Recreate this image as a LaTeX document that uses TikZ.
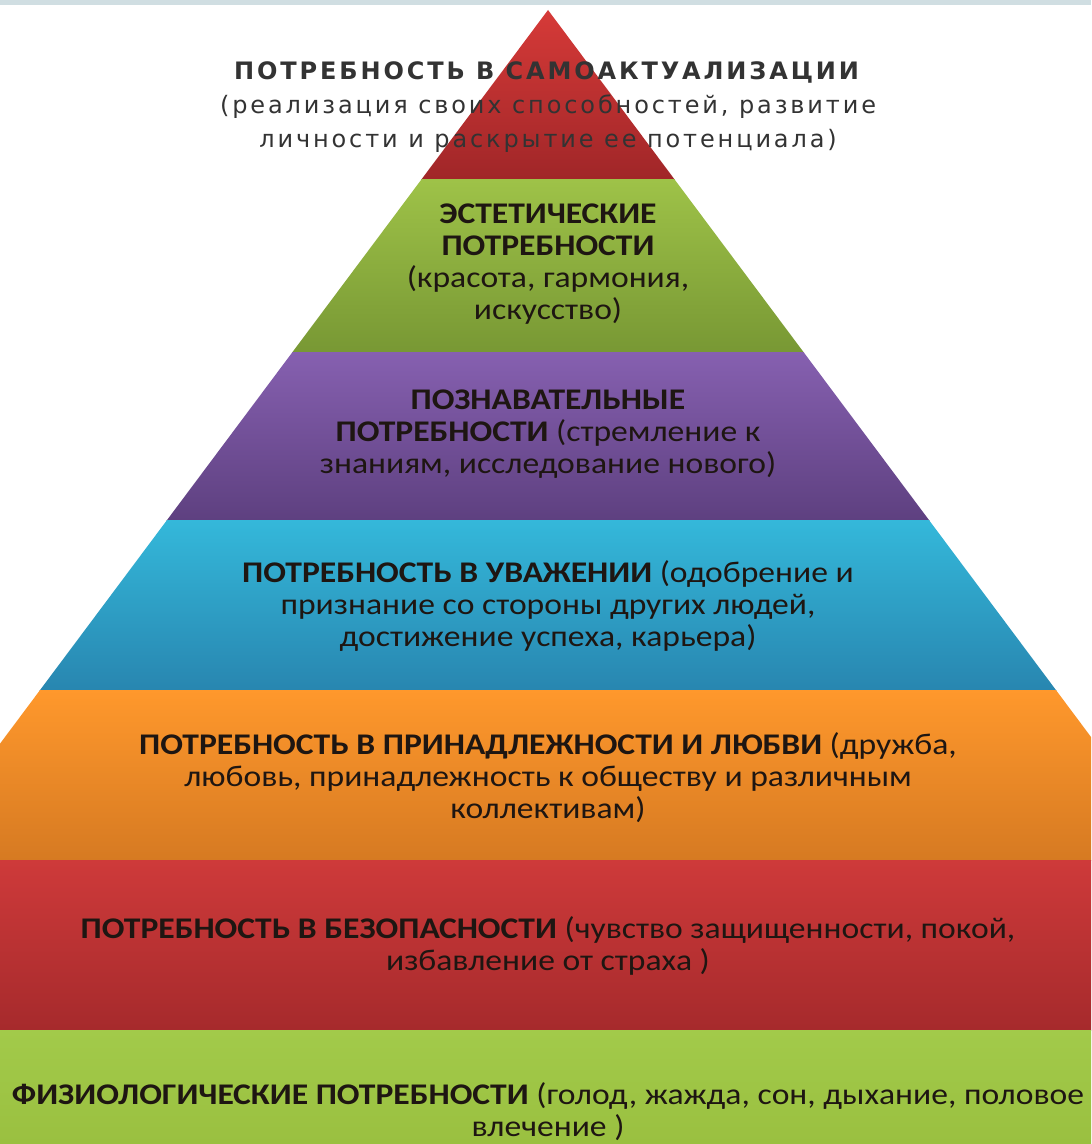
\documentclass[tikz,border=0pt]{standalone}
\usepackage{fontspec}
\setmainfont[FakeStretch=1.12]{Carlito}
\newfontfamily\apexfont[LetterSpace=12]{DejaVu Sans}
\usetikzlibrary{positioning}
\definecolor{TopStrip}{RGB}{208,222,226}
\definecolor{ApexRedA}{RGB}{214,58,56}
\definecolor{ApexRedB}{RGB}{160,38,40}
\definecolor{ArtGreenA}{RGB}{158,194,72}
\definecolor{ArtGreenB}{RGB}{120,152,52}
\definecolor{MindPurpleA}{RGB}{134,96,176}
\definecolor{MindPurpleB}{RGB}{94,64,128}
\definecolor{EsteemBlueA}{RGB}{52,184,218}
\definecolor{EsteemBlueB}{RGB}{40,134,176}
\definecolor{LoveOrangeA}{RGB}{255,152,44}
\definecolor{LoveOrangeB}{RGB}{214,122,34}
\definecolor{SafeRedA}{RGB}{206,58,58}
\definecolor{SafeRedB}{RGB}{166,42,44}
\definecolor{BodyGreenA}{RGB}{162,202,74}
\definecolor{BodyGreenB}{RGB}{154,192,64}
\definecolor{TierInk}{RGB}{30,22,18}
\tikzset{
  tiertext/.style={align=center, text=TierInk, inner sep=0pt,
    font=\fontsize{15}{16}\selectfont},
  apextext/.style={align=center, text=black!80, inner sep=0pt,
    font=\apexfont\fontsize{12}{17}\selectfont}
}

\begin{document}
\begin{tikzpicture}[x=0.5pt, y=-0.5pt]
  \useasboundingbox (0,0) rectangle (1091,1144);
  \fill[white] (0,0) rectangle (1091,1144);
  \begin{scope}
    \clip (548,10) -- (1395,1144) -- (-299,1144) -- cycle;
    \shade[top color=ApexRedA, bottom color=ApexRedB] (0,10) rectangle (1091,180);
    \shade[top color=ArtGreenA, bottom color=ArtGreenB] (0,180) rectangle (1091,352);
    \shade[top color=MindPurpleA, bottom color=MindPurpleB] (0,352) rectangle (1091,520);
    \shade[top color=EsteemBlueA, bottom color=EsteemBlueB] (0,520) rectangle (1091,690);
    \shade[top color=LoveOrangeA, bottom color=LoveOrangeB] (0,690) rectangle (1091,860);
    \shade[top color=SafeRedA, bottom color=SafeRedB] (0,860) rectangle (1091,1030);
    \shade[top color=BodyGreenA, bottom color=BodyGreenB] (0,1030) rectangle (1091,1144);
  \end{scope}
  \fill[TopStrip] (0,0) rectangle (1091,5);

  \node[apextext] (selfreal) at (548,107)
    {\textbf{ПОТРЕБНОСТЬ В САМОАКТУАЛИЗАЦИИ}\\
     (реализация своих способностей, развитие\\
     личности и раскрытие ее потенциала)};
  \node[tiertext] (aesthetic) at (548,264)
    {\textbf{ЭСТЕТИЧЕСКИЕ}\\ \textbf{ПОТРЕБНОСТИ}\\ (красота, гармония,\\ искусство)};
  \node[tiertext] (cognitive) at (548,434)
    {\textbf{ПОЗНАВАТЕЛЬНЫЕ}\\ \textbf{ПОТРЕБНОСТИ} (стремление к\\ знаниям, исследование нового)};
  \node[tiertext] (esteem) at (548,606)
    {\textbf{ПОТРЕБНОСТЬ В УВАЖЕНИИ} (одобрение и\\ признание со стороны других людей,\\ достижение успеха, карьера)};
  \node[tiertext] (belonging) at (548,778)
    {\textbf{ПОТРЕБНОСТЬ В ПРИНАДЛЕЖНОСТИ И ЛЮБВИ} (дружба,\\ любовь, принадлежность к обществу и различным\\ коллективам)};
  \node[tiertext] (safety) at (548,946)
    {\textbf{ПОТРЕБНОСТЬ В БЕЗОПАСНОСТИ} (чувство защищенности, покой,\\ избавление от страха )};
  \node[tiertext] (physio) at (548,1112)
    {\textbf{ФИЗИОЛОГИЧЕСКИЕ ПОТРЕБНОСТИ} (голод, жажда, сон, дыхание, половое\\ влечение )};
\end{tikzpicture}
\end{document}
